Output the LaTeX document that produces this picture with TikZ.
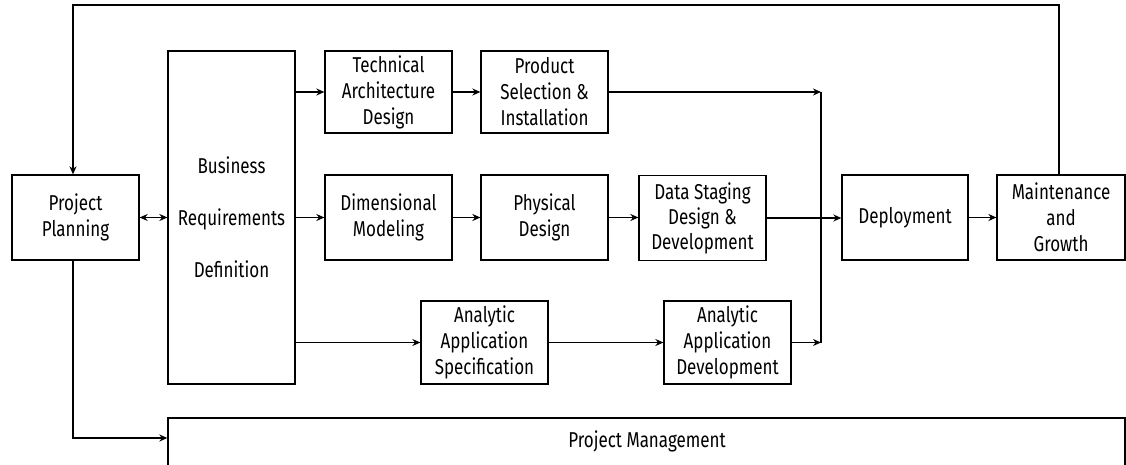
\documentclass[tikz,border=0pt]{standalone}
\usepackage{fontspec}
\setmainfont{Fira Sans}[FakeStretch=0.79]
\usetikzlibrary{arrows.meta}
\begin{document}
\begin{tikzpicture}[x=1pt,y=-1pt,
  box/.style={draw,line width=1.3pt,minimum width=127pt,minimum height=85pt,inner sep=0pt,align=center,
    font=\fontsize{21.5}{26}\selectfont},
  conn/.style={line width=1.3pt},
  arr/.style={conn,-{Stealth[length=8pt,width=7pt]}},
  darr/.style={conn,{Stealth[length=8pt,width=7pt]}-{Stealth[length=8pt,width=7pt]}}]
\useasboundingbox (0,0) rectangle (1126,465);
\fill[white] (0,0) rectangle (1126,465);
\node[box] (PP) at (75.5,217.5) {Project\\Planning};
\node[box,minimum height=333pt,font=\fontsize{21.5}{52}\selectfont] (BRD) at (231.5,217.5) {Business\\Requirements\\Definition};
\node[box,minimum height=82pt] (TAD) at (388.5,92) {Technical\\Architecture\\Design};
\node[box,minimum height=82pt] (PSI) at (544.5,92) {Product\\Selection \&\\Installation};
\node[box] (DM) at (388.5,217.5) {Dimensional\\Modeling};
\node[box] (PD) at (544.5,217.5) {Physical\\Design};
\node[box,font=\fontsize{21.5}{25}\selectfont] (DS) at (702.5,218) {Data Staging\\Design \&\\Development};
\node[box,minimum height=83pt] (AAS) at (484.5,342.5) {Analytic\\Application\\Specification};
\node[box,minimum height=83pt] (AAD) at (727.5,342.5) {Analytic\\Application\\Development};
\node[box,minimum width=126pt] (Dep) at (905,217.5) {Deployment};
\node[box,minimum width=128pt] (MG) at (1061,217.5) {Maintenance\\and\\Growth};
\node[box,minimum width=957pt,minimum height=60pt] (PM) at (646.5,448) {};
\node[font=\fontsize{21.5}{26}\selectfont,inner sep=0pt] (PMt) at (647,441) {Project Management};
\coordinate (jt) at (821,92);
\coordinate (jm) at (821,218);
\coordinate (jb) at (821,342.5);
\coordinate (tr) at (1059,5);
\coordinate (tl) at (73,5);
\coordinate (bl) at (73,438);
\draw[darr] (PP.east) -- (BRD.west);
\draw[arr] (BRD.east |- TAD) -- (TAD.west);
\draw[arr] (BRD.east |- DM) -- (DM.west);
\draw[arr] (BRD.east |- AAS) -- (AAS.west);
\draw[arr] (TAD) -- (PSI);
\draw[arr] (DM) -- (PD);
\draw[arr] (PD.east) -- (DS.west |- PD);
\draw[arr] (AAS) -- (AAD);
\draw[arr] (PSI.east) -- (jt);
\draw[arr] (AAD.east) -- (jb);
\draw[conn] (jt) -- (jb);
\draw[arr] (DS.east) -- (Dep.west |- DS);
\draw[arr] (Dep) -- (MG);
\draw[arr] (tr |- MG.north) -- (tr) -- (tl) -- (tl |- PP.north);
\draw[arr] (bl |- PP.south) -- (bl) -- (PM.west |- bl);
\end{tikzpicture}
\end{document}
